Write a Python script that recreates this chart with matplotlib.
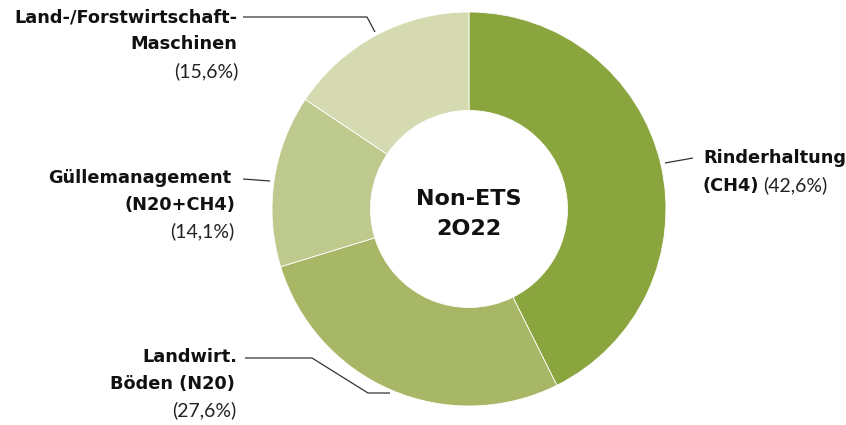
import matplotlib.pyplot as plt

# emission shares, Non-ETS agriculture 2022 (clockwise from top)
categories = ["Rinderhaltung", "Landwirt. Böden", "Güllemanagement", "Land-/Forstwirtschaft-Maschinen"]
shares = [42.6, 27.6, 14.1, 15.6]
pct_labels = ["(42,6%)", "(27,6%)", "(14,1%)", "(15,6%)"]
colors = ["#8ba53e", "#a8b765", "#bec98e", "#d5dab1"]

W, H = 846, 425
fig = plt.figure(figsize=(W / 100, H / 100), dpi=100)
ax = fig.add_axes([0, 0, 1, 1])

cx, cy, r = 469, H - 209, 197
ax.pie(shares, colors=colors, startangle=90, counterclock=False,
       center=(cx, cy), radius=r, frame=True,
       wedgeprops=dict(width=r * 0.5, edgecolor="white", linewidth=0.6))
ax.set_xlim(0, W)
ax.set_ylim(0, H)
ax.set_aspect("equal")
ax.axis("off")

bold = dict(family="DejaVu Sans", fontweight="bold", fontsize=12.8, color="#111111")
light = dict(family="Lato", fontweight="normal", fontsize=14, color="#222222")


def Y(py):
    return H - py


# centre label
ax.text(cx, Y(199), "Non-ETS", ha="center", va="center", family="DejaVu Sans",
        fontweight="bold", fontsize=16, color="#111111")
ax.text(cx, Y(229), "2O22", ha="center", va="center", family="DejaVu Sans",
        fontweight="bold", fontsize=16, color="#111111")

# leader lines
line_kw = dict(color="#333333", linewidth=0.9, solid_capstyle="butt")
ax.plot([243, 367, 375], [Y(17), Y(17), Y(32)], **line_kw)
ax.plot([243, 270], [Y(179), Y(181)], **line_kw)
ax.plot([245, 312, 368, 390], [Y(358), Y(358), Y(393), Y(393)], **line_kw)
ax.plot([665, 693], [Y(163), Y(158)], **line_kw)

# left-hand labels
ax.text(237, Y(17), "Land-/Forstwirtschaft-", ha="right", va="center", **bold)
ax.text(237, Y(44), "Maschinen", ha="right", va="center", **bold)
ax.text(238, Y(71), pct_labels[3], ha="right", va="center", **light)

ax.text(231, Y(178), "Güllemanagement", ha="right", va="center", **bold)
ax.text(235, Y(205), "(N20+CH4)", ha="right", va="center", **bold)
ax.text(234, Y(231), pct_labels[2], ha="right", va="center", **light)

ax.text(237, Y(357), "Landwirt.", ha="right", va="center", **bold)
ax.text(235, Y(384), "Böden (N20)", ha="right", va="center", **bold)
ax.text(236, Y(410), pct_labels[1], ha="right", va="center", **light)

# right-hand label, bold name followed by regular percentage
ax.text(703, Y(158), "Rinderhaltung", ha="left", va="center", **bold)
t = ax.text(703, Y(186), "(CH4)", ha="left", va="center", **bold)
fig.canvas.draw()
bb = t.get_window_extent(renderer=fig.canvas.get_renderer())
x_end = ax.transData.inverted().transform((bb.x1, bb.y0))[0]
ax.text(x_end + 4, Y(185), pct_labels[0], ha="left", va="center", **light)

fig.savefig("out.png", dpi=100, facecolor="white")
